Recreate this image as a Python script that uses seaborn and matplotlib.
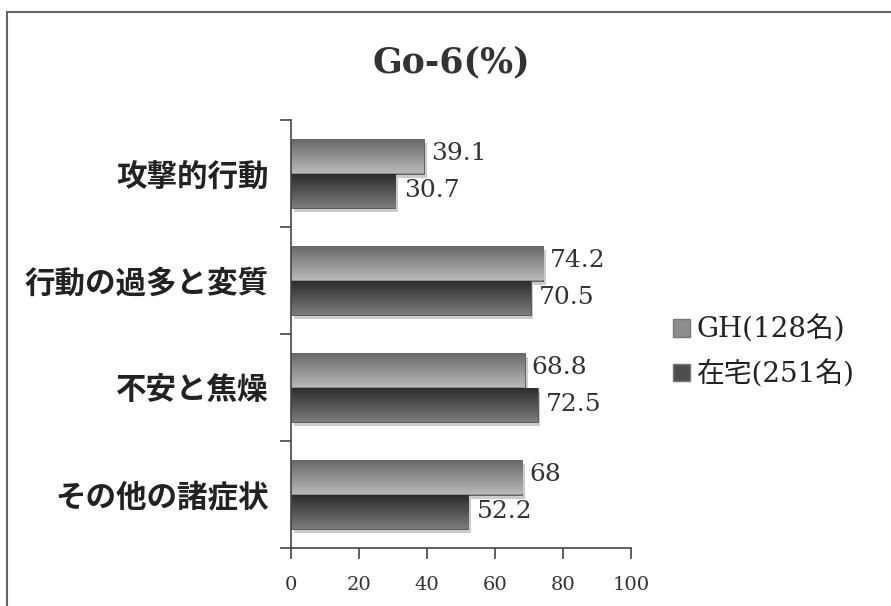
import numpy as np
import pandas as pd
import matplotlib
matplotlib.use("Agg")
import matplotlib.pyplot as plt
import matplotlib.patches as mpatches
import matplotlib.patheffects as pe
import seaborn as sns

categories = ["攻撃的行動", "行動の過多と変質", "不安と焦燥", "その他の諸症状"]
gh_values = [39.1, 74.2, 68.8, 68]
home_values = [30.7, 70.5, 72.5, 52.2]
series_names = ["GH(128名)", "在宅(251名)"]
x_ticks = [0, 20, 40, 60, 80, 100]
title = "Go-6(%)"

sns.set_theme(style="white")
plt.rcParams["font.family"] = ["DejaVu Serif", "Noto Sans CJK JP"]

df = pd.DataFrame({
    "category": categories * 2,
    "value": gh_values + home_values,
    "group": [series_names[0]] * len(categories) + [series_names[1]] * len(categories),
})

W, H = 891, 606
fig = plt.figure(figsize=(W / 100, H / 100), dpi=100)
ax = fig.add_axes([291 / W, 58 / H, 340 / W, 428 / H])

colors = {series_names[0]: "#8e8e8e", series_names[1]: "#4e4e4e"}
sns.barplot(data=df, y="category", x="value", hue="group", order=categories,
            hue_order=series_names, palette=colors, orient="h", width=0.64,
            edgecolor="#555555", linewidth=0.6, ax=ax, legend=False)

# vertical gradient fill over each bar, with a soft drop shadow
grad_ranges = {series_names[0]: ("#b8b8b8", "#666666"), series_names[1]: ("#7c7c7c", "#2a2a2a")}
n = len(categories)
for i, patch in enumerate(ax.patches[: 2 * n]):
    grp = series_names[i // n]
    c0, c1 = [np.array(matplotlib.colors.to_rgb(c)) for c in grad_ranges[grp]]
    t = np.linspace(0, 1, 64)[:, None]
    img = (c0 * (1 - t) + c1 * t)[:, None, :]
    x0, y0 = patch.get_x(), patch.get_y()
    w, h = patch.get_width(), patch.get_height()
    patch.set_path_effects([pe.SimplePatchShadow(offset=(2, -3), shadow_rgbFace="#999999", alpha=0.5),
                            pe.Normal()])
    im = ax.imshow(img, extent=(x0, x0 + w, y0, y0 + h), aspect="auto",
                   origin="upper", zorder=patch.get_zorder() + 0.1)
    im.set_clip_path(patch)

# value labels
for i, cat in enumerate(categories):
    ax.annotate(f"{gh_values[i]:g}", (gh_values[i], i - 0.16), xytext=(5, 2),
                textcoords="offset points", va="center", ha="left",
                fontsize=18, color="#333333")
    ax.annotate(f"{home_values[i]:g}", (home_values[i], i + 0.16), xytext=(6, 0),
                textcoords="offset points", va="center", ha="left",
                fontsize=18, color="#333333")

ax.set_xlim(0, 100)
ax.set_ylim(len(categories) - 0.5, -0.5)
ax.set_xticks(x_ticks)
ax.set_xticklabels([str(v) for v in x_ticks], fontsize=14, color="#333333")
ax.set_yticks(range(len(categories)))
ax.set_yticklabels(categories, fontsize=22, fontweight="bold", color="#222222",
                   family=["Noto Sans CJK JP"])
ax.set_yticks(np.arange(-0.5, len(categories)), minor=True)
ax.tick_params(axis="y", which="major", length=0, pad=16)
ax.tick_params(axis="y", which="minor", length=8, width=1.2, color="#444444", direction="out", left=True)
ax.tick_params(axis="x", which="major", length=8, width=1.2, color="#444444", direction="out",
               bottom=True, pad=12)
ax.set_xlabel("")
ax.set_ylabel("")
for s in ["top", "right"]:
    ax.spines[s].set_visible(False)
for s in ["left", "bottom"]:
    ax.spines[s].set_color("#444444")
    ax.spines[s].set_linewidth(1.2)

fig.text(451 / W, 1 - 62 / H, title, ha="center", va="center", fontsize=25,
         fontweight="bold", color="#333333")

handles = [mpatches.Patch(facecolor=colors[s], edgecolor="#777777", label=s) for s in series_names]
fig.legend(handles=handles, loc="center left", bbox_to_anchor=(648 / W, 1 - 352 / H),
           frameon=False, fontsize=20, handlelength=0.6, handleheight=0.6,
           handletextpad=0.25, labelspacing=0.6, labelcolor="#222222")

# figure frame
fig.add_artist(mpatches.Rectangle((7 / W, -0.05), 1.2, 1 - 12 / H + 0.05,
                                  transform=fig.transFigure, fill=False,
                                  edgecolor="#666666", linewidth=1.5))

fig.savefig("out.png", dpi=100)
